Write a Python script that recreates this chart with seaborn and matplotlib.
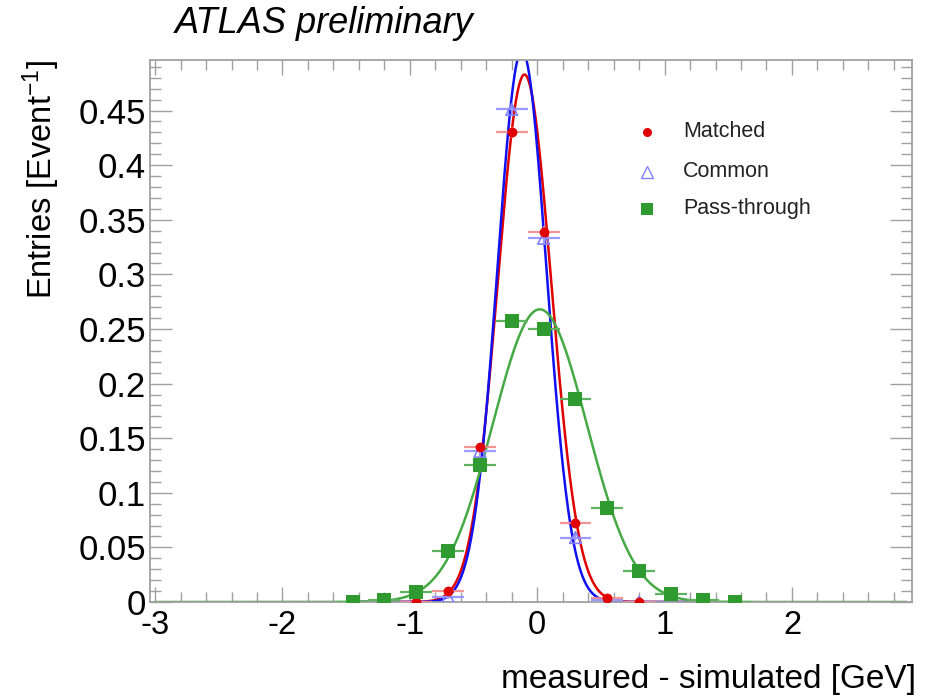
import numpy as np
import pandas as pd
import matplotlib
matplotlib.use("Agg")
import matplotlib.pyplot as plt
import seaborn as sns

# ---------------- data ----------------
bin_centers = [-1.45, -1.2, -0.95, -0.7, -0.45, -0.2, 0.05, 0.3, 0.55, 0.8, 1.05, 1.3, 1.55]

matched_x = [-0.95, -0.7, -0.45, -0.2, 0.05, 0.3, 0.55, 0.8]
matched_y = [0.0, 0.010, 0.142, 0.430, 0.339, 0.072, 0.004, 0.0]
matched_yerr = [0.001, 0.002, 0.004, 0.005, 0.005, 0.003, 0.001, 0.001]

common_x = [-0.95, -0.7, -0.45, -0.2, 0.05, 0.3, 0.55, 0.8]
common_y = [0.0, 0.005, 0.138, 0.451, 0.333, 0.059, 0.0015, 0.0]
common_yerr = [0.001, 0.002, 0.004, 0.005, 0.005, 0.003, 0.001, 0.001]

pass_x = bin_centers
pass_y = [0.0, 0.0016, 0.0094, 0.047, 0.125, 0.257, 0.250, 0.186, 0.086, 0.028, 0.0076, 0.0015, 0.0]
pass_yerr = [0.001, 0.001, 0.002, 0.003, 0.004, 0.005, 0.005, 0.004, 0.003, 0.002, 0.001, 0.001, 0.001]

bin_half_width = 0.125

# Gaussian fit results (amplitude, mean, sigma, fit range)
fit_names = ["Matched", "Common", "Pass-through"]
fit_amp = [0.483, 0.505, 0.268]
fit_mean = [-0.100, -0.120, 0.020]
fit_sigma = [0.210, 0.192, 0.370]
fit_lo = [-1.45, -1.45, -3.0]
fit_hi = [1.35, 1.35, 2.9]

x_ticks = [-3, -2, -1, 0, 1, 2]
y_ticks = [0, 0.05, 0.1, 0.15, 0.2, 0.25, 0.3, 0.35, 0.4, 0.45]
y_tick_labels = ["0", "0.05", "0.1", "0.15", "0.2", "0.25", "0.3", "0.35", "0.4", "0.45"]

# ---------------- style ----------------
sns.set_style("ticks")
plt.rcParams["font.family"] = ["Liberation Sans", "DejaVu Sans"]
plt.rcParams["axes.unicode_minus"] = False
plt.rcParams["mathtext.fontset"] = "custom"
plt.rcParams["mathtext.rm"] = "Liberation Sans"
plt.rcParams["mathtext.it"] = "Liberation Sans:italic"
plt.rcParams["mathtext.default"] = "regular"
plt.rcParams["text.color"] = "black"
plt.rcParams["axes.labelcolor"] = "black"

RED = "#e00000"
RED_ERR = "#f08a8a"
BLUE = "#1010f0"
BLUE_MK = "#8080ff"
BLUE_ERR = "#9a9aff"
GREEN = "#2f9a2f"
GREEN_LINE = "#45aa45"
GREEN_ERR = "#5fb25f"
FRAME = "#a0a0a0"

W, H = 946, 696
fig = plt.figure(figsize=(W / 100, H / 100), dpi=100)
L, R, T, B = 150, 911.7, 60, 602
ax = fig.add_axes([L / W, 1 - B / H, (R - L) / W, (B - T) / H])

# ---------------- fit curves ----------------
curve_colors = [RED, BLUE, GREEN_LINE]
draw_order = [2, 0, 1]
for i in draw_order:
    xs = np.linspace(fit_lo[i], fit_hi[i], 600)
    ys = fit_amp[i] * np.exp(-0.5 * ((xs - fit_mean[i]) / fit_sigma[i]) ** 2)
    df = pd.DataFrame({"x": xs, "y": ys})
    sns.lineplot(data=df, x="x", y="y", ax=ax, color=curve_colors[i], lw=1.8,
                 sort=False, zorder=2 + (0.1 * i))

# ---------------- error bars & markers ----------------
ax.errorbar(common_x, common_y, xerr=[bin_half_width] * len(common_x), yerr=common_yerr,
            fmt="none", ecolor=BLUE_ERR, elinewidth=1.6, capsize=0, zorder=3)
ax.errorbar(matched_x, matched_y, xerr=[bin_half_width] * len(matched_x), yerr=matched_yerr,
            fmt="none", ecolor=RED_ERR, elinewidth=1.6, capsize=0, zorder=3, alpha=0.9)
ax.errorbar(pass_x, pass_y, xerr=[bin_half_width] * len(pass_x), yerr=pass_yerr,
            fmt="none", ecolor=GREEN_ERR, elinewidth=1.6, capsize=0, zorder=3)

df_c = pd.DataFrame({"x": common_x, "y": common_y})
df_m = pd.DataFrame({"x": matched_x, "y": matched_y})
df_p = pd.DataFrame({"x": pass_x, "y": pass_y})

sns.scatterplot(data=df_c, x="x", y="y", ax=ax, marker="^", s=70,
                facecolor="none", edgecolor=BLUE_MK, linewidth=1.2, zorder=4)
sns.scatterplot(data=df_m, x="x", y="y", ax=ax, marker="o", s=50,
                color=RED, edgecolor=RED, linewidth=0, zorder=5)
sns.scatterplot(data=df_p, x="x", y="y", ax=ax, marker="s", s=95,
                color=GREEN, edgecolor=GREEN, linewidth=0, zorder=5)

# ---------------- axes ----------------
ax.set_xlim(-3.04, 2.94)
ax.set_ylim(0, 0.4963)
ax.set_xticks(x_ticks)
ax.set_xticklabels([str(v) for v in x_ticks])
ax.set_xticks(np.arange(-3.0, 2.95, 0.2), minor=True)
ax.set_yticks(y_ticks)
ax.set_yticklabels(y_tick_labels)
ax.set_yticks(np.arange(0, 0.4963, 0.01), minor=True)

for s in ax.spines.values():
    s.set_color(FRAME)
    s.set_linewidth(1.3)

ax.tick_params(axis="both", which="both", direction="in", colors=FRAME,
               labelcolor="black", top=True, right=True, width=1.0)
ax.tick_params(axis="x", which="major", length=11, labelsize=23.5, pad=6)
ax.tick_params(axis="x", which="minor", length=7)
ax.tick_params(axis="y", which="major", length=16, labelsize=25, pad=3)
ax.tick_params(axis="y", which="minor", length=8)

ax.set_xlabel("measured - simulated [GeV]", fontsize=24, loc="right")
ax.xaxis.set_label_coords((916 - L) / (R - L), (B - 664) / (B - T))
ax.set_ylabel("Entries [Event$^{-1}$]", fontsize=23.5, loc="top")
ax.yaxis.set_label_coords((62 - L) / (R - L), 1.0)
ax.grid(False)

fig.text(175 / W, 1 - 33 / H, "ATLAS preliminary", fontsize=26, style="italic",
         va="baseline", ha="left")

# ---------------- legend ----------------
def to_ax(px, py):
    return (px - L) / (R - L), (B - py) / (B - T)

legend_rows = [
    ("Matched", dict(marker="o", color=RED, markersize=6.5, markeredgewidth=0), 131.7),
    ("Common", dict(marker="^", markerfacecolor="none", markeredgecolor=BLUE_MK,
                    markersize=8.5, markeredgewidth=1.0, color="none"), 171.7),
    ("Pass-through", dict(marker="s", color=GREEN, markersize=8, markeredgewidth=0), 208.5),
]
for label, style, py in legend_rows:
    mx, my = to_ax(646.7, py)
    ax.plot([mx], [my], transform=ax.transAxes, linestyle="none", clip_on=False, zorder=6, **style)
    tx, ty = to_ax(683, py)
    ax.text(tx, ty, label, transform=ax.transAxes, fontsize=15.5, va="center", ha="left",
            color="#222222")

fig.savefig("out.png", dpi=100)
